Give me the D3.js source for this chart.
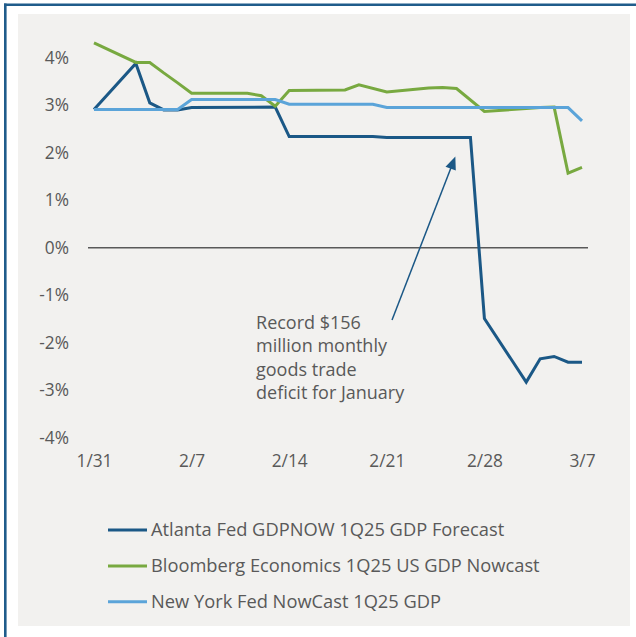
<!DOCTYPE html>
<html>
<head>
<meta charset="utf-8">
<script src="https://cdn.jsdelivr.net/npm/d3@7"></script>
<style>
  html, body { margin: 0; padding: 0; background: #ffffff; }
  svg { display: block; }
  text { font-family: "Open Sans", "Noto Sans", sans-serif; fill: #595959; }
</style>
</head>
<body>
<script>
// ---------------- data ----------------
const atlantaDates = ["2025-01-31","2025-02-03","2025-02-04","2025-02-05","2025-02-06","2025-02-07","2025-02-13","2025-02-14","2025-02-20","2025-02-21","2025-02-27","2025-02-28","2025-03-03","2025-03-04","2025-03-05","2025-03-06","2025-03-07"];
const atlantaValues = [2.91, 3.88, 3.05, 2.90, 2.90, 2.95, 2.96, 2.34, 2.34, 2.32, 2.32, -1.49, -2.83, -2.34, -2.29, -2.41, -2.41];

const bloombergDates = ["2025-01-31","2025-02-03","2025-02-04","2025-02-05","2025-02-06","2025-02-07","2025-02-11","2025-02-12","2025-02-13","2025-02-14","2025-02-18","2025-02-19","2025-02-21","2025-02-24","2025-02-25","2025-02-26","2025-02-28","2025-03-03","2025-03-04","2025-03-05","2025-03-06","2025-03-07"];
const bloombergValues = [4.31, 3.90, 3.90, 3.68, 3.47, 3.25, 3.25, 3.20, 2.98, 3.31, 3.32, 3.43, 3.28, 3.36, 3.37, 3.35, 2.87, 2.93, 2.95, 2.96, 1.57, 1.69];

const nyfedDates = ["2025-01-31","2025-02-06","2025-02-07","2025-02-13","2025-02-14","2025-02-20","2025-02-21","2025-03-06","2025-03-07"];
const nyfedValues = [2.91, 2.91, 3.12, 3.12, 3.02, 3.02, 2.95, 2.95, 2.67];

const seriesNames = ["Atlanta Fed GDPNOW 1Q25 GDP Forecast", "Bloomberg Economics 1Q25 US GDP Nowcast", "New York Fed NowCast 1Q25 GDP"];
const seriesColors = ["#1b5886", "#78a940", "#5ba4d9"];

const xTickDates = ["2025-01-31","2025-02-07","2025-02-14","2025-02-21","2025-02-28","2025-03-07"];
const yTickValues = [4, 3, 2, 1, 0, -1, -2, -3, -4];

const annotationLines = ["Record $156", "million monthly", "goods trade", "deficit for January"];
const annotationFrom = ["2025-02-21T09:00", -1.52];
const annotationTo = ["2025-02-25T22:00", 1.92];

// ---------------- drawing ----------------
const W = 636, H = 637;
const parse = s => new Date(s.length > 10 ? s : s + "T00:00");
const svg = d3.select("body").append("svg").attr("width", W).attr("height", H);

// frame
svg.append("rect").attr("x", 18).attr("y", 14).attr("width", 612).attr("height", 612).attr("fill", "#f2f1ef");
svg.append("line").attr("x1", 5.3).attr("x2", 5.3).attr("y1", 3.5).attr("y2", H).attr("stroke", "#1f5c8b").attr("stroke-width", 2.6);
svg.append("line").attr("x1", 4).attr("x2", W).attr("y1", 4.8).attr("y2", 4.8).attr("stroke", "#1f5c8b").attr("stroke-width", 2.6);

const x = d3.scaleTime().domain([parse("2025-01-31"), parse("2025-03-07")]).range([94, 582]);
const y = d3.scaleLinear().domain([-4, 4]).range([437.7, 57.7]);

// y axis labels
const yAxis = d3.axisLeft(y).tickValues(yTickValues).tickFormat(d => d + "%").tickSize(0).tickPadding(0);
const gy = svg.append("g").attr("transform", "translate(69,0)").call(yAxis);
gy.select(".domain").remove();
gy.selectAll("text").attr("font-size", 17.3).attr("fill", "#595959").attr("font-family", "'Open Sans', sans-serif");

// x axis labels
const xAxis = d3.axisBottom(x).tickValues(xTickDates.map(parse)).tickFormat(d3.timeFormat("%-m/%-d")).tickSize(0).tickPadding(0);
const gx = svg.append("g").attr("transform", "translate(0,455)").call(xAxis);
gx.select(".domain").remove();
gx.selectAll("text").attr("font-size", 17.3).attr("fill", "#595959").attr("font-family", "'Open Sans', sans-serif");

// zero line
svg.append("line")
  .attr("x1", x.range()[0] - 6).attr("x2", x.range()[1] + 6)
  .attr("y1", y(0)).attr("y2", y(0))
  .attr("stroke", "#595959").attr("stroke-width", 1.5);

// series
const series = [
  { dates: atlantaDates, values: atlantaValues },
  { dates: bloombergDates, values: bloombergValues },
  { dates: nyfedDates, values: nyfedValues }
];
const line = d3.line().x(d => x(d[0])).y(d => y(d[1]));
series.forEach((s, i) => {
  const pts = s.dates.map((d, j) => [parse(d), s.values[j]]);
  svg.append("path").datum(pts).attr("d", line)
    .attr("fill", "none").attr("stroke", seriesColors[i]).attr("stroke-width", 3)
    .attr("stroke-linejoin", "miter").attr("stroke-linecap", "butt");
});

// annotation arrow
const ax1 = x(parse(annotationFrom[0])), ay1 = y(annotationFrom[1]);
const ax2 = x(parse(annotationTo[0])), ay2 = y(annotationTo[1]);
const ang = Math.atan2(ay2 - ay1, ax2 - ax1);
const hl = 13, hw = 5.5;
svg.append("line").attr("x1", ax1).attr("y1", ay1)
  .attr("x2", ax2 - (hl - 2) * Math.cos(ang)).attr("y2", ay2 - (hl - 2) * Math.sin(ang))
  .attr("stroke", "#1b5886").attr("stroke-width", 1.5);
const tri = [
  [ax2, ay2],
  [ax2 - hl * Math.cos(ang) + hw * Math.sin(ang), ay2 - hl * Math.sin(ang) - hw * Math.cos(ang)],
  [ax2 - hl * Math.cos(ang) - hw * Math.sin(ang), ay2 - hl * Math.sin(ang) + hw * Math.cos(ang)]
];
svg.append("path").attr("d", "M" + tri.map(p => p.join(",")).join("L") + "Z").attr("fill", "#1b5886");

const at = svg.append("text").attr("font-size", 18).attr("x", ax1 - 136).attr("y", ay1 + 9);
annotationLines.forEach((t, i) => {
  at.append("tspan").attr("x", ax1 - 136).attr("dy", i === 0 ? 0 : 23.3).text(t);
});

// legend
const legendY = [530, 566, 601.7];
seriesNames.forEach((n, i) => {
  svg.append("line").attr("x1", 108).attr("x2", 147).attr("y1", legendY[i]).attr("y2", legendY[i])
    .attr("stroke", seriesColors[i]).attr("stroke-width", 3);
  svg.append("text").attr("x", 151).attr("y", legendY[i]).attr("dy", "0.35em").attr("font-size", 18.3).text(n);
});
</script>
</body>
</html>
